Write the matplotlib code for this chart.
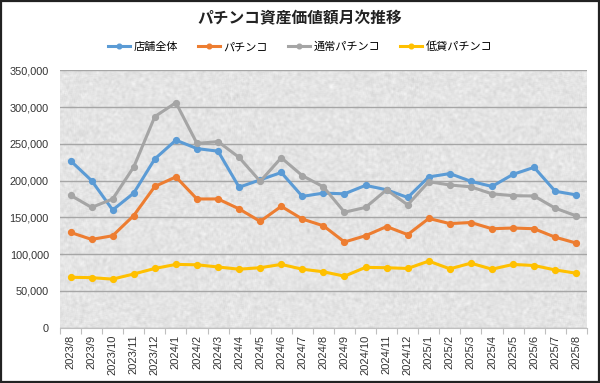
import matplotlib
matplotlib.use("Agg")
import numpy as np
import matplotlib.pyplot as plt
from matplotlib.ticker import FuncFormatter, MultipleLocator
from matplotlib.patches import Rectangle

months = ["2023/8", "2023/9", "2023/10", "2023/11", "2023/12", "2024/1", "2024/2", "2024/3",
          "2024/4", "2024/5", "2024/6", "2024/7", "2024/8", "2024/9", "2024/10", "2024/11",
          "2024/12", "2025/1", "2025/2", "2025/3", "2025/4", "2025/5", "2025/6", "2025/7", "2025/8"]

store_total = [227000, 200000, 160000, 183000, 229500, 255000, 243500, 240000, 191000, 201000,
               211000, 178500, 183000, 182000, 193500, 187500, 177000, 205000, 209500, 199000,
               192000, 208500, 218000, 185500, 180500]
pachinko = [129500, 120000, 125000, 152500, 192000, 205000, 175000, 175000, 161500, 144500,
            165000, 147700, 138500, 116500, 125000, 137500, 126500, 148500, 141500, 143000,
            134500, 135500, 134500, 123000, 115000]
normal_pachinko = [180000, 163500, 175000, 218500, 287000, 306000, 250500, 253000, 231500, 199000,
                   231000, 206700, 191500, 157000, 163500, 187500, 167000, 198500, 194000, 191500,
                   182000, 179500, 179000, 162500, 152000]
low_pachinko = [68500, 68000, 66000, 73000, 80500, 86000, 85500, 82500, 79500, 81500,
                86000, 79500, 76000, 70000, 82000, 81500, 80500, 90500, 80000, 87700,
                79500, 86000, 84500, 78500, 74000]

series_names = ["店舗全体", "パチンコ", "通常パチンコ", "低貸パチンコ"]
title = "パチンコ資産価値額月次推移"

plt.rcParams['font.family'] = ['Noto Sans CJK JP', 'DejaVu Sans']

fig = plt.figure(figsize=(6.0, 3.83), dpi=100)
fig.patches.append(Rectangle((0.002, 0.003), 0.996, 0.994, transform=fig.transFigure,
                             fill=False, edgecolor='#222222', linewidth=1.6))

ax = fig.add_axes([0.100, 0.1445, 0.878, 0.672])
ax.set_facecolor('#e4e4e4')

# granite-like background texture (decoration only)
rng = np.random.default_rng(7)
tex = rng.normal(0.0, 1.0, (260, 530))
k = np.ones(3) / 3.0
tex = np.apply_along_axis(lambda r: np.convolve(r, k, mode='same'), 1, tex)
tex = np.apply_along_axis(lambda c: np.convolve(c, k, mode='same'), 0, tex)
tex = np.clip(0.895 + 0.05 * tex, 0.78, 0.98)
ax.imshow(np.dstack([tex, tex, tex]), extent=(-0.5, len(months) - 0.5, 0, 350000),
          aspect='auto', zorder=0, interpolation='bilinear')

colors = ['#5B9BD5', '#ED7D31', '#A5A5A5', '#FFC000']
data = [store_total, pachinko, normal_pachinko, low_pachinko]
x = list(range(len(months)))
for vals, c, name in zip(data, colors, series_names):
    ax.plot(x, vals, color=c, linewidth=2.2, marker='o', markersize=4.2,
            markerfacecolor=c, markeredgecolor=c, label=name, zorder=3)

ax.set_xlim(-0.5, len(months) - 0.5)
ax.set_ylim(0, 350000)
ax.yaxis.set_major_locator(MultipleLocator(50000))
ax.yaxis.set_major_formatter(FuncFormatter(lambda v, p: f"{int(v):,}"))
ax.grid(axis='y', color='#a6a6a6', linewidth=1.0, zorder=1)

ax.set_xticks(x)
ax.set_xticks(np.arange(-0.5, len(months)), minor=True)
ax.set_xticklabels(months, rotation=90, fontsize=8, family=['Liberation Sans', 'DejaVu Sans'])
for lbl in ax.get_yticklabels():
    lbl.set_fontsize(7.8)
    lbl.set_family(['Liberation Sans', 'DejaVu Sans'])
ax.tick_params(axis='y', length=0, pad=8, colors='#333333')
ax.tick_params(axis='x', which='major', length=0, pad=5, colors='#333333')
ax.tick_params(axis='x', which='minor', length=4, color='#bfbfbf', width=0.8)
for s in ['top', 'right', 'left']:
    ax.spines[s].set_visible(False)
ax.spines['bottom'].set_color('#bfbfbf')
ax.spines['bottom'].set_zorder(2)

fig.text(0.5, 0.952, title, ha='center', va='center', fontsize=11.3, fontweight='bold', color='#222222')
fig.legend(loc='center', bbox_to_anchor=(0.5, 0.878), ncol=4, frameon=False, fontsize=8,
           handlelength=2.0, columnspacing=1.8, handletextpad=0.3, markerscale=0.8)

fig.savefig("out.png", dpi=100)
